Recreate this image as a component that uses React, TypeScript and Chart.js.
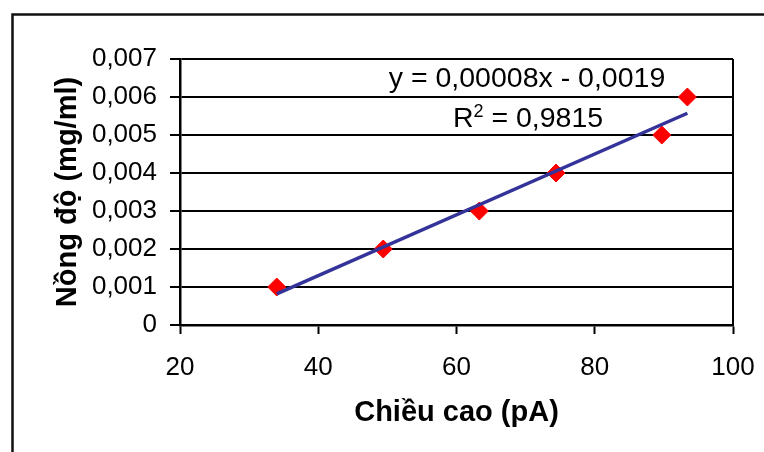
import React, { useEffect, useRef } from "react";
import { Chart, registerables } from "chart.js";

Chart.register(...registerables);

const heights = [34.0, 49.4, 63.3, 74.4, 89.7, 93.4];
const concentrations = [0.001, 0.002, 0.003, 0.004, 0.005, 0.006];
const trendSlope = 0.00008;
const trendIntercept = -0.0019;
const equationText = "y = 0,00008x - 0,0019";
const r2Value = "0,9815";
const xTitle = "Chiều cao (pA)";
const yTitle = "Nồng độ (mg/ml)";

const FONT = "'Liberation Sans', Arial, sans-serif";

const fmtY = (v: number) => (v === 0 ? "0" : Number(v).toFixed(3).replace(".", ","));

const decorPlugin = {
  id: "decor",
  afterDraw(chart: any) {
    const ctx = chart.ctx;
    const ca = chart.chartArea;
    ctx.save();
    // plot area right border
    ctx.strokeStyle = "#000";
    ctx.lineWidth = 2;
    ctx.beginPath();
    ctx.moveTo(Math.round(ca.right), ca.top);
    ctx.lineTo(Math.round(ca.right), ca.bottom);
    ctx.stroke();
    // outer frame
    ctx.lineWidth = 2.5;
    ctx.strokeStyle = "#111";
    ctx.strokeRect(12.5, 14.5, 900, 600);
    // equation
    ctx.fillStyle = "#000";
    ctx.textBaseline = "alphabetic";
    ctx.font = `28.5px ${FONT}`;
    const cx = 527;
    const eqW = ctx.measureText(equationText).width;
    ctx.fillText(equationText, cx - eqW / 2, 87);
    // R^2
    const rW = ctx.measureText("R").width;
    const restText = " = " + r2Value;
    const restW = ctx.measureText(restText).width;
    ctx.font = `18px ${FONT}`;
    const sW = ctx.measureText("2").width;
    const total = rW + sW + restW;
    let x = 528 - total / 2;
    const base = 127;
    ctx.font = `28.5px ${FONT}`;
    ctx.fillText("R", x, base);
    x += rW;
    ctx.font = `18px ${FONT}`;
    ctx.fillText("2", x, base - 10);
    x += sW;
    ctx.font = `28.5px ${FONT}`;
    ctx.fillText(restText, x, base);
    ctx.restore();
  },
};

export default function App() {
  const ref = useRef<HTMLCanvasElement | null>(null);
  useEffect(() => {
    if (!ref.current) return;
    const xMin = Math.min(...heights);
    const xMax = Math.max(...heights);
    const chart = new Chart(ref.current, {
      type: "scatter",
      data: {
        datasets: [
          {
            label: "trend",
            type: "line",
            data: [
              { x: xMin, y: trendSlope * xMin + trendIntercept },
              { x: xMax, y: trendSlope * xMax + trendIntercept },
            ],
            borderColor: "#333399",
            borderWidth: 3.5,
            pointRadius: 0,
            fill: false,
            order: 0,
          } as any,
          {
            label: "data",
            data: heights.map((h, i) => ({ x: h, y: concentrations[i] })),
            pointStyle: "rectRot",
            pointRadius: 9,
            backgroundColor: "#ff0000",
            borderColor: "#ff0000",
            borderWidth: 1,
            showLine: false,
            order: 1,
          },
        ],
      },
      options: {
        responsive: false,
        animation: false,
        devicePixelRatio: 1,
        layout: { padding: { top: 59, right: 31, left: 0, bottom: 0 } },
        plugins: { legend: { display: false }, tooltip: { enabled: false } },
        scales: {
          x: {
            type: "linear",
            min: 20,
            max: 100,
            ticks: {
              stepSize: 20,
              color: "#000",
              font: { family: FONT, size: 26 },
              padding: 18,
              maxRotation: 0,
            },
            grid: {
              drawOnChartArea: false,
              drawTicks: true,
              tickLength: 9,
              tickColor: "#000",
              tickWidth: 2,
            },
            border: { display: true, color: "#000", width: 2.5 },
            title: {
              display: true,
              text: xTitle,
              color: "#000",
              font: { family: FONT, size: 29, weight: "bold" },
              padding: { top: 0, bottom: 22 },
            },
            afterFit: (s: any) => {
              s.height = 127;
              s.paddingLeft = 0;
              s.paddingRight = 0;
            },
          },
          y: {
            min: 0,
            max: 0.007,
            ticks: {
              stepSize: 0.001,
              color: "#000",
              font: { family: FONT, size: 26 },
              padding: 13,
              callback: (v: any) => fmtY(Number(v)),
            },
            grid: {
              color: "#000",
              lineWidth: 2,
              drawTicks: true,
              tickLength: 10,
              tickColor: "#000",
              tickWidth: 2,
            },
            border: { display: true, color: "#000", width: 2.5 },
            title: {
              display: true,
              text: yTitle,
              color: "#000",
              font: { family: FONT, size: 29, weight: "bold" },
              padding: { top: 51, bottom: 0 },
            },
            afterFit: (s: any) => {
              s.width = 180;
              s.paddingTop = 0;
              s.paddingBottom = 0;
            },
          },
        },
      } as any,
      plugins: [decorPlugin],
    });
    return () => chart.destroy();
  }, []);
  return (
    <div style={{ position: "absolute", left: 0, top: 0, width: 764, height: 452, background: "#fff" }}>
      <canvas ref={ref} width={764} height={452} style={{ display: "block" }} />
    </div>
  );
}
